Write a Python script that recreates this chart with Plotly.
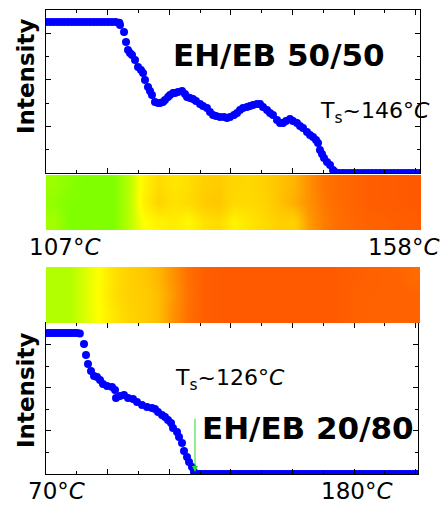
import plotly.graph_objects as go

# ---------------- data ----------------
# Top panel: EH/EB 50/50, temperature (°C) vs normalised intensity
top_flat_hi_x = [107.0, 107.5, 108.0, 108.5, 109.0, 109.5, 110.0, 110.5, 111.0, 111.5,
                 112.0, 112.5, 113.0, 113.5, 114.0, 114.5, 115.0, 115.5, 116.0, 116.5, 117.0]
top_flat_hi_y = [0.926, 0.926, 0.926, 0.926, 0.926, 0.926, 0.926, 0.926, 0.926, 0.926,
                 0.926, 0.926, 0.926, 0.926, 0.926, 0.926, 0.926, 0.926, 0.926, 0.926, 0.922]
top_drop_x = [117.09, 117.64, 117.91, 118.18, 118.45, 118.73, 119.14, 119.55, 119.95, 120.23,
              120.50, 120.91, 121.18, 121.45, 121.86, 122.27, 122.55, 122.95, 123.23, 123.64,
              123.91, 124.32, 124.59, 125.00, 125.55, 125.95, 126.23, 126.64, 127.05, 127.45,
              128.00, 128.41, 128.95, 129.36, 129.77, 130.18, 130.73, 131.27, 131.68, 132.09,
              132.64, 133.05, 133.45, 133.86, 134.41, 134.82, 135.23, 135.77, 136.18, 136.59,
              137.14, 137.55, 137.95, 138.50, 138.91, 139.32, 139.73, 140.27, 140.68, 141.23,
              141.64, 142.05, 142.59, 143.00, 143.41, 143.82, 144.09, 144.36, 144.64, 144.91,
              145.32, 145.73, 146.14, 146.41]
top_drop_y = [0.908, 0.865, 0.804, 0.755, 0.736, 0.724, 0.693, 0.650, 0.632, 0.613,
              0.571, 0.528, 0.503, 0.479, 0.436, 0.429, 0.429, 0.436, 0.448, 0.466,
              0.479, 0.491, 0.491, 0.497, 0.503, 0.485, 0.466, 0.460, 0.454, 0.442,
              0.423, 0.411, 0.399, 0.374, 0.356, 0.350, 0.344, 0.344, 0.337, 0.344,
              0.356, 0.368, 0.387, 0.399, 0.405, 0.411, 0.417, 0.423, 0.423, 0.405,
              0.387, 0.368, 0.356, 0.325, 0.307, 0.307, 0.319, 0.331, 0.319, 0.307,
              0.288, 0.276, 0.252, 0.233, 0.221, 0.202, 0.184, 0.141, 0.117, 0.092,
              0.067, 0.049, 0.018, 0.006]
top_flat_lo_x = [146.5, 147.0, 147.5, 148.0, 148.5, 149.0, 149.5, 150.0, 150.5, 151.0,
                 151.5, 152.0, 152.5, 153.0, 153.5, 154.0, 154.5, 155.0, 155.5, 156.0,
                 156.5, 157.0, 157.5, 158.0]
top_flat_lo_y = [0.0, 0.0, 0.0, 0.0, 0.0, 0.0, 0.0, 0.0, 0.0, 0.0, 0.0, 0.0,
                 0.0, 0.0, 0.0, 0.0, 0.0, 0.0, 0.0, 0.0, 0.0, 0.0, 0.0, 0.0]

# Bottom panel: EH/EB 20/80
bot_flat_hi_x = [70, 71, 72, 73, 74, 75, 76, 77, 78, 79, 80, 81, 82]
bot_flat_hi_y = [0.934, 0.934, 0.934, 0.934, 0.934, 0.934, 0.934, 0.934, 0.934, 0.934,
                 0.934, 0.934, 0.930]
bot_drop_x = [83.48, 84.19, 84.90, 85.97, 87.03, 88.10, 89.16, 90.23, 91.65, 93.42,
              94.49, 94.84, 96.26, 97.68, 99.10, 100.87, 102.29, 104.07, 105.84, 107.62,
              108.68, 109.74, 111.16, 112.23, 113.29, 114.36, 115.07, 116.49, 117.20, 118.26,
              118.97, 120.04, 120.75, 121.81, 122.52]
bot_drop_y = [0.861, 0.788, 0.728, 0.682, 0.649, 0.642, 0.623, 0.596, 0.583, 0.576,
              0.556, 0.503, 0.517, 0.523, 0.503, 0.497, 0.477, 0.457, 0.444, 0.437,
              0.430, 0.411, 0.391, 0.377, 0.358, 0.338, 0.305, 0.278, 0.245, 0.205,
              0.152, 0.113, 0.079, 0.046, 0.013]
bot_flat_lo_x = [123, 124, 125, 126, 127, 128, 129, 130, 131, 132, 133, 134, 135, 136, 137,
                 138, 139, 140, 141, 142, 143, 144, 145, 146, 147, 148, 149, 150, 151, 152,
                 153, 154, 155, 156, 157, 158, 159, 160, 161, 162, 163, 164, 165, 166, 167,
                 168, 169, 170, 171, 172, 173, 174, 175, 176, 177, 178, 179, 180, 181, 182,
                 183, 184, 185, 186, 187, 188, 189, 190, 191, 192, 193, 194, 195, 196, 197,
                 198, 199, 200, 201, 202]
bot_flat_lo_y = [0.0, 0.0, 0.0, 0.0, 0.0, 0.0, 0.0, 0.0, 0.0, 0.0, 0.0, 0.0, 0.0, 0.0, 0.0,
                 0.0, 0.0, 0.0, 0.0, 0.0, 0.0, 0.0, 0.0, 0.0, 0.0, 0.0, 0.0, 0.0, 0.0, 0.0,
                 0.0, 0.0, 0.0, 0.0, 0.0, 0.0, 0.0, 0.0, 0.0, 0.0, 0.0, 0.0, 0.0, 0.0, 0.0,
                 0.0, 0.0, 0.0, 0.0, 0.0, 0.0, 0.0, 0.0, 0.0, 0.0, 0.0, 0.0, 0.0, 0.0, 0.0,
                 0.0, 0.0, 0.0, 0.0, 0.0, 0.0, 0.0, 0.0, 0.0, 0.0, 0.0, 0.0, 0.0, 0.0, 0.0,
                 0.0, 0.0, 0.0, 0.0, 0.0]

# Ts marker (green arrow) for 20/80
arrow_x = 122.87
arrow_y_tail = 0.377
arrow_y_head = 0.013

# Colour strips (relative colour index, 3 rows x 25 columns)
strip_top = [
    [0.10, 0.00, 0.00, 0.00, 0.00, 0.16, 0.30, 0.35, 0.38, 0.33, 0.42, 0.45, 0.35,
     0.40, 0.45, 0.50, 0.50, 0.68, 0.80, 0.86, 0.90, 0.93, 0.94, 0.95, 0.96],
    [0.05, 0.00, 0.00, 0.00, 0.00, 0.15, 0.36, 0.48, 0.42, 0.45, 0.52, 0.55, 0.45,
     0.45, 0.48, 0.56, 0.62, 0.72, 0.82, 0.88, 0.92, 0.95, 0.96, 0.97, 0.98],
    [0.08, 0.03, 0.00, 0.00, 0.00, 0.15, 0.34, 0.45, 0.40, 0.43, 0.50, 0.52, 0.47,
     0.46, 0.50, 0.56, 0.60, 0.72, 0.84, 0.88, 0.92, 0.95, 0.96, 0.97, 0.98],
]
strip_bot = [
    [0.14, 0.14, 0.22, 0.30, 0.40, 0.48, 0.52, 0.58, 0.72, 0.86, 0.95, 0.97, 0.97,
     0.97, 0.97, 0.97, 0.97, 0.97, 0.97, 0.97, 0.94, 0.93, 0.93, 0.93, 0.93],
    [0.14, 0.14, 0.22, 0.31, 0.43, 0.50, 0.52, 0.58, 0.70, 0.85, 0.95, 0.97, 0.97,
     0.97, 0.97, 0.97, 0.97, 0.97, 0.97, 0.97, 0.94, 0.93, 0.93, 0.93, 0.93],
    [0.14, 0.14, 0.22, 0.30, 0.42, 0.50, 0.54, 0.60, 0.72, 0.86, 0.95, 0.97, 0.97,
     0.97, 0.97, 0.97, 0.97, 0.97, 0.97, 0.97, 0.95, 0.94, 0.93, 0.92, 0.88],
]
strip_colorscale = [
    [0.00, "rgb(128,255,0)"],
    [0.15, "rgb(180,255,0)"],
    [0.30, "rgb(255,255,0)"],
    [0.45, "rgb(255,218,0)"],
    [0.55, "rgb(255,198,0)"],
    [0.70, "rgb(255,150,0)"],
    [0.85, "rgb(255,112,0)"],
    [1.00, "rgb(255,85,0)"],
]

# ---------------- figure ----------------
W, H = 441, 511
BLUE = "#0000ff"
FONT = "DejaVu Sans"

def px_x(v):
    return v / W

def px_y(v):
    return 1 - v / H

fig = go.Figure()

marker = dict(color=BLUE, size=8, line=dict(width=0))
for xs, ys in [(top_flat_hi_x, top_flat_hi_y), (top_drop_x, top_drop_y), (top_flat_lo_x, top_flat_lo_y)]:
    fig.add_trace(go.Scatter(x=xs, y=ys, mode="markers", marker=marker,
                             xaxis="x", yaxis="y", showlegend=False, hoverinfo="skip"))
for xs, ys in [(bot_flat_hi_x, bot_flat_hi_y), (bot_drop_x, bot_drop_y), (bot_flat_lo_x, bot_flat_lo_y)]:
    fig.add_trace(go.Scatter(x=xs, y=ys, mode="markers", marker=marker,
                             xaxis="x2", yaxis="y2", showlegend=False, hoverinfo="skip"))

fig.add_trace(go.Heatmap(z=strip_top, colorscale=strip_colorscale, zmin=0, zmax=1,
                         showscale=False, zsmooth="best", xaxis="x3", yaxis="y3", hoverinfo="skip"))
fig.add_trace(go.Heatmap(z=strip_bot, colorscale=strip_colorscale, zmin=0, zmax=1,
                         showscale=False, zsmooth="best", xaxis="x4", yaxis="y4", hoverinfo="skip"))

def frame_axis(domain, rng, tick0, dtick, anchor):
    return dict(domain=domain, range=rng, anchor=anchor, showgrid=False, zeroline=False,
                showline=True, linecolor="black", linewidth=1, mirror="ticks",
                ticks="inside", ticklen=5, tickcolor="black", tickwidth=1,
                tickmode="linear", tick0=tick0, dtick=dtick, showticklabels=False,
                minor=dict(ticks="inside", ticklen=3, tickcolor="black", dtick=dtick / 2,
                           tick0=tick0, showgrid=False))

fig.update_layout(
    width=W, height=H, margin=dict(l=0, r=0, t=0, b=0),
    paper_bgcolor="white", plot_bgcolor="white",
    xaxis=frame_axis([px_x(46), px_x(420)], [107, 158], 107, 8.4, "y"),
    yaxis=frame_axis([px_y(173), px_y(10)], [0, 1], 0, 2 / 7, "x"),
    xaxis2=frame_axis([px_x(46), px_x(418)], [70, 202], 70, 21.86, "y2"),
    yaxis2=frame_axis([px_y(474), px_y(323)], [0, 1], 0, 2 / 7, "x2"),
    xaxis3=dict(domain=[px_x(46), px_x(421)], range=[-0.5, 24.5], visible=False, anchor="y3"),
    yaxis3=dict(domain=[px_y(230), px_y(175)], range=[-0.5, 2.5], visible=False, anchor="x3"),
    xaxis4=dict(domain=[px_x(46), px_x(420)], range=[-0.5, 24.5], visible=False, anchor="y4"),
    yaxis4=dict(domain=[px_y(323), px_y(267)], range=[-0.5, 2.5], visible=False, anchor="x4"),
)

def label(text, x, y, size, xanchor="center", angle=0):
    return dict(text=text, x=px_x(x), y=px_y(y), xref="paper", yref="paper",
                xanchor=xanchor, yanchor="middle", showarrow=False, textangle=angle,
                font=dict(family=FONT, size=size, color="black"))

annotations = [
    label("<b>Intensity</b>", 26, 77, 23, angle=-90),
    label("<b>Intensity</b>", 26, 391, 23, angle=-90),
    label("<b>EH/EB 50/50</b>", 279, 55, 31),
    label("<b>EH/EB 20/80</b>", 308, 428, 31),
    label("T<sub>s</sub>~146°<i>C</i>", 318, 112, 22, xanchor="left"),
    label("T<sub>s</sub>~126°<i>C</i>", 173, 379, 22, xanchor="left"),
    label("107°<i>C</i>", 64, 247, 23),
    label("158°<i>C</i>", 403, 247, 23),
    label("70°<i>C</i>", 56, 491, 23),
    label("180°<i>C</i>", 356, 491, 23),
    dict(x=arrow_x, y=arrow_y_head, ax=arrow_x, ay=arrow_y_tail,
         xref="x2", yref="y2", axref="x2", ayref="y2", text="",
         showarrow=True, arrowhead=2, arrowsize=1.2, arrowwidth=1, arrowcolor="#22dd22"),
]
fig.update_layout(annotations=annotations)

# remove the browser's default page margin so the figure sits at the window origin
fig.write_html("out.html", config={"displayModeBar": False},
               post_script="document.body.style.margin='0';")
